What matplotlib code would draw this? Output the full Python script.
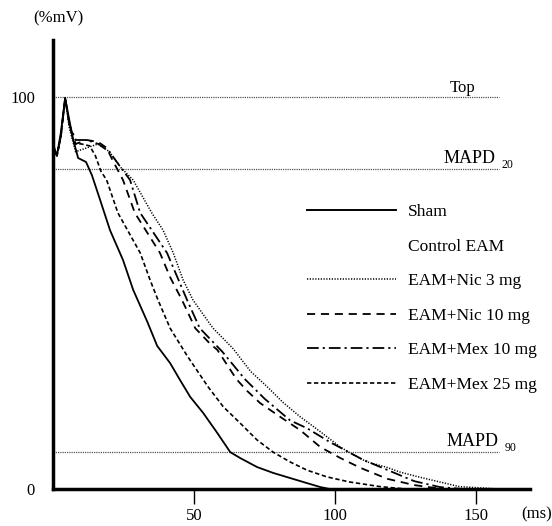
import numpy as np
import matplotlib.pyplot as plt
from matplotlib.lines import Line2D

plt.rcParams['font.family'] = ['Liberation Serif', 'DejaVu Serif']

# time (ms) / amplitude (%mV)
sham_t = [0, 1.4, 2.8, 4.3, 5.8, 7, 8.9, 11.7, 13.8, 16.7, 20.2, 24.8, 28.4, 33.5,
          36.9, 41.5, 45, 48.6, 53.2, 58.2, 62.8, 66.3, 72.3, 78, 84, 90, 94.7, 98, 169]
sham_v = [88, 85, 91, 99.7, 94, 89.5, 84.4, 83.4, 80, 73.7, 66, 58.4, 50.8, 42.5,
          36.5, 32.1, 27.8, 23.5, 19.4, 14.3, 9.4, 7.9, 5.6, 4.1, 2.8, 1.5, 0.5, 0, 0]

mex25_t = [0, 1.4, 2.8, 4.3, 5.8, 7.5, 10, 13, 15, 17, 19, 23, 30.9, 34.4, 37.2,
           41.5, 47.5, 55, 60.3, 66.3, 72.3, 78, 84, 90, 97, 105, 116, 125]
mex25_v = [87, 85, 90, 99.7, 93, 88, 88, 87.5, 85, 81, 78.8, 70.4, 60.2, 53.3, 48.2,
           41, 34, 26, 21, 16.8, 12.5, 9.4, 6.9, 4.8, 3.1, 1.8, 0.6, 0]

nic10_t = [0, 1.4, 2.8, 4.3, 5.8, 8, 12, 16, 19, 21, 24.8, 29, 37.9, 41.5, 45.7,
           50.4, 55.7, 58.2, 65, 68.8, 73.4, 80.5, 87.6, 94.7, 101.8, 108.9, 118.4, 128, 138]
nic10_v = [87, 85, 90, 99.7, 93, 88, 89, 88.5, 87, 84, 78.8, 70.4, 60.2, 54, 48.2,
           41, 37, 35.5, 28, 25, 21.9, 18.4, 15, 10.7, 7.9, 5.4, 2.6, 1, 0]

mex10_t = [0, 1.4, 2.8, 4.3, 5.8, 8, 12, 16, 20, 23, 27.3, 30.9, 40.4, 47.5, 52,
           60, 68, 75, 84, 90, 98, 110, 118, 128, 137, 145]
mex10_v = [87, 85, 90, 99.7, 93, 89, 89, 88, 86, 83, 78.8, 70.4, 60.2, 48.2, 41,
           35, 28, 23, 17.5, 15.5, 12, 7.4, 5, 2, 0.5, 0]

nic3_t = [0, 1.4, 2.8, 4.3, 5.8, 8, 12, 16, 20, 24, 28.4, 35, 39, 42.6, 46.1, 49.6,
          54.6, 56.7, 63.8, 70, 76, 81.6, 87.6, 94, 101.8, 106.4, 111.3, 118.4, 123,
          130, 137, 144, 158]
nic3_v = [87, 85, 90, 99.7, 92, 86, 87, 88, 86, 82, 78.8, 70.4, 66, 60.2, 53.3, 48.2,
          43.1, 41, 35.8, 30, 26, 22, 18.4, 15, 10.7, 8.7, 6.9, 5.5, 4.3,
          3, 1.8, 0.6, 0]

ref_levels = [100, 81.6, 9.4]
x_ticks = [50, 100, 150]
y_ticks = [0, 100]

fig = plt.figure(figsize=(5.52, 5.26), dpi=100)
ax = fig.add_axes([53 / 552, 37 / 526, 477 / 552, 449 / 526])

# reference lines
for lvl in ref_levels:
    ax.plot([0, 158], [lvl, lvl], color='#555555', lw=0.9, ls=(0, (1, 0.8)))

ax.plot(sham_t, sham_v, color='black', lw=1.3, ls='-')
ax.plot(mex25_t, mex25_v, color='black', lw=1.2, ls=(0, (2.6, 1.6)))
ax.plot(nic10_t, nic10_v, color='black', lw=1.3, ls=(0, (4.5, 3.2)))
ax.plot(mex10_t, mex10_v, color='black', lw=1.3, ls=(0, (6.5, 2.2, 1.2, 2.2)))
ax.plot(nic3_t, nic3_v, color='black', lw=1.1, ls=(0, (0.8, 1.0)))

ax.set_xlim(0, 169)
ax.set_ylim(0, 114.5)
for s in ['top', 'right']:
    ax.spines[s].set_visible(False)
ax.spines['left'].set_linewidth(2.5)
ax.spines['bottom'].set_linewidth(2.5)

ax.set_xticks(x_ticks)
ax.set_yticks(y_ticks)
ax.tick_params(axis='x', direction='out', length=11, width=1, pad=3, labelsize=12)
ax.tick_params(axis='y', length=0, pad=13, labelsize=12)

# labels on the reference lines
ax.text(140.5, 101.2, 'Top', fontsize=12, va='baseline')
ax.text(138.2, 83.2, 'MAPD', fontsize=13, va='baseline')
ax.text(158.8, 81.8, '20', fontsize=8.5, va='baseline')
ax.text(139.5, 11.0, 'MAPD', fontsize=13, va='baseline')
ax.text(160, 9.8, '90', fontsize=8.5, va='baseline')

fig.text(33 / 552, 1 - 18 / 526, '(%mV)', fontsize=12, va='center', ha='left')
fig.text(521 / 552, 1 - 514 / 526, '(ms)', fontsize=12, va='center', ha='left')

# legend
handles = [
    Line2D([], [], color='black', lw=1.4, ls='-'),
    Line2D([], [], color='none', lw=1.3),
    Line2D([], [], color='black', lw=1.1, ls=(0, (0.8, 1.0))),
    Line2D([], [], color='black', lw=1.3, ls=(0, (4.5, 3.2))),
    Line2D([], [], color='black', lw=1.3, ls=(0, (6.5, 2.2, 1.2, 2.2))),
    Line2D([], [], color='black', lw=1.2, ls=(0, (2.6, 1.6))),
]
labels = ['Sham', 'Control EAM', 'EAM+Nic 3 mg', 'EAM+Nic 10 mg',
          'EAM+Mex 10 mg', 'EAM+Mex 25 mg']
leg = ax.legend(handles, labels, loc='upper left', frameon=False, fontsize=12.5,
                bbox_to_anchor=(307 / 552, 1 - 204 / 526), bbox_transform=fig.transFigure,
                borderaxespad=0, borderpad=0, handlelength=5.1, handletextpad=0.72,
                labelspacing=1.06)

fig.savefig('out.png', dpi=100)
